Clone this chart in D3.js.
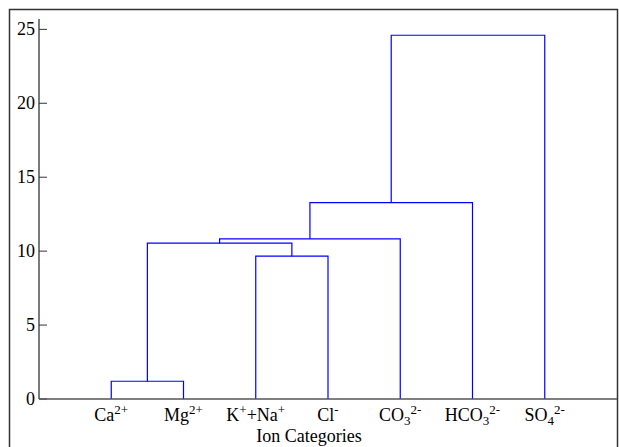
<!DOCTYPE html>
<html>
<head>
<meta charset="utf-8">
<script src="https://cdn.jsdelivr.net/npm/d3@7"></script>
<style>
html,body{margin:0;padding:0;background:#fff;}
svg{display:block;}
text{font-family:"Liberation Serif","Times New Roman",serif;fill:#000;}
</style>
</head>
<body>
<svg id="chart" width="619" height="447"></svg>
<script>
// ---- data ----
const categories = ["Ca2+", "Mg2+", "K++Na+", "Cl-", "CO32-", "HCO32-", "SO42-"];
// label pieces: [text, kind] where kind = n (normal), sup, sub
const categoryLabels = [
  [["Ca","n"],["2+","sup"]],
  [["Mg","n"],["2+","sup"]],
  [["K","n"],["+","sup"],["+Na","n"],["+","sup"]],
  [["Cl","n"],["-","sup"]],
  [["CO","n"],["3","sub"],["2-","sup"]],
  [["HCO","n"],["3","sub"],["2-","sup"]],
  [["SO","n"],["4","sub"],["2-","sup"]]
];
// linkage rows: [left cluster, right cluster, merge height]; clusters >= 7 are earlier merges
const linkLeft   = [0, 2, 7, 9, 10, 11];
const linkRight  = [1, 3, 8, 4, 5, 6];
const linkHeight = [1.2, 9.66, 10.54, 10.83, 13.28, 24.6];
const yTicks = [0, 5, 10, 15, 20, 25];
const xTitle = "Ion Categories";

// ---- layout ----
const svg = d3.select("#chart");
const mLeft = 39, mRight = 617, mTop = 19, mBottom = 399;

const x = d3.scalePoint().domain(categories).range([mLeft, mRight]).padding(1);
const y = d3.scaleLinear().domain([0, 25.7]).range([mBottom, mTop]);

// outer frame
svg.append("rect")
  .attr("x", 9.5).attr("y", 9.5).attr("width", 608).attr("height", 460)
  .attr("fill", "none").attr("stroke", "#333").attr("stroke-width", 1.5);

// dendrogram links
const nodes = categories.map(c => ({x: x(c), h: 0}));
const g = svg.append("g");
linkLeft.forEach((l, i) => {
  const a = nodes[l], b = nodes[linkRight[i]], h = linkHeight[i];
  g.append("path")
    .attr("d", `M${a.x},${y(a.h)}V${y(h)}H${b.x}V${y(b.h)}`)
    .attr("fill", "none").attr("stroke", "#0000ff").attr("stroke-width", 1.2);
  nodes.push({x: (a.x + b.x) / 2, h: h});
});

// y axis
const yAxis = svg.append("g").attr("transform", `translate(${mLeft},0)`);
yAxis.append("line").attr("x1", 0).attr("x2", 0).attr("y1", mTop).attr("y2", mBottom)
  .attr("stroke", "#333").attr("stroke-width", 1.3);
yTicks.forEach(t => {
  yAxis.append("line").attr("x1", 0).attr("x2", 8).attr("y1", y(t)).attr("y2", y(t))
    .attr("stroke", "#333").attr("stroke-width", 1);
  yAxis.append("text").attr("x", -4).attr("y", y(t)).attr("dy", "0.34em")
    .attr("text-anchor", "end").attr("font-size", 18).text(t);
});

// x axis line
svg.append("line").attr("x1", mLeft).attr("x2", mRight).attr("y1", mBottom).attr("y2", mBottom)
  .attr("stroke", "#555").attr("stroke-width", 1.5);

// x labels
categories.forEach((c, i) => {
  const t = svg.append("text").attr("x", x(c)).attr("y", 421)
    .attr("text-anchor", "middle").attr("font-size", 18);
  let off = 0;
  categoryLabels[i].forEach(([s, k]) => {
    const target = k === "sup" ? -7 : (k === "sub" ? 4 : 0);
    t.append("tspan").attr("dy", target - off)
      .attr("font-size", k === "n" ? 18 : 13).text(s);
    off = target;
  });
});

// x title
svg.append("text").attr("x", 309).attr("y", 441.5).attr("text-anchor", "middle")
  .attr("font-size", 18).text(xTitle);
</script>
</body>
</html>
